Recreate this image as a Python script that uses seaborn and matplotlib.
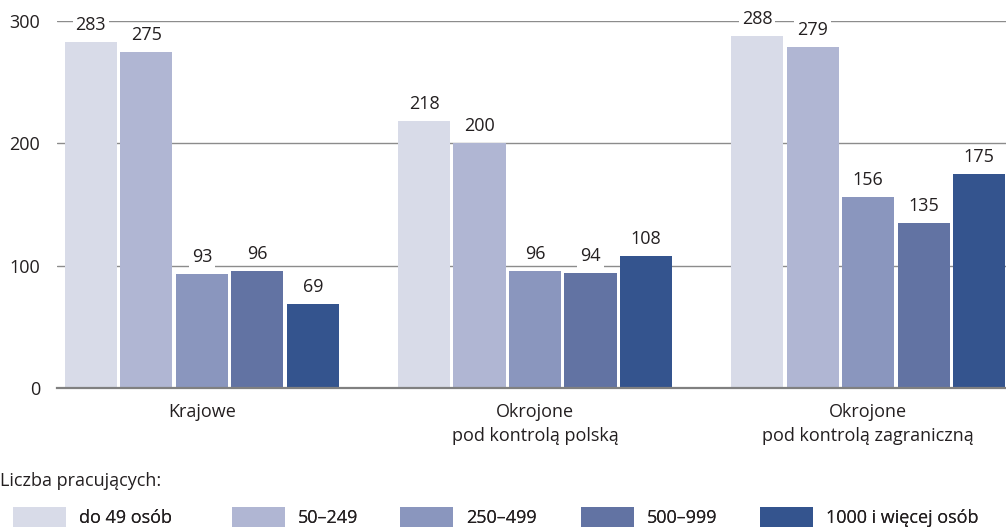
import matplotlib
matplotlib.use("Agg")
import matplotlib.pyplot as plt
import seaborn as sns
import pandas as pd
from matplotlib.patches import Patch

categories = ["Krajowe", "Okrojone\npod kontrolą polską", "Okrojone\npod kontrolą zagraniczną"]
sizes = ["do 49 osób", "50–249", "250–499", "500–999", "1000 i więcej osób"]
values = {
    "do 49 osób": [283, 218, 288],
    "50–249": [275, 200, 279],
    "250–499": [93, 96, 156],
    "500–999": [96, 94, 135],
    "1000 i więcej osób": [69, 108, 175],
}
colors = ["#d8dbe8", "#b0b6d3", "#8a96be", "#6273a3", "#34548e"]
yticks = [0, 100, 200, 300]
legend_title = "Liczba pracujących:"

rows = []
for s in sizes:
    for c, v in zip(categories, values[s]):
        rows.append({"cat": c, "size": s, "val": v})
df = pd.DataFrame(rows)

sns.set_theme(style="white")
plt.rcParams["font.family"] = ["Open Sans", "DejaVu Sans"]
plt.rcParams["text.color"] = "#231f20"
FS = 13

fig = plt.figure(figsize=(10.06, 5.29), dpi=100)
ax = fig.add_axes([57 / 1006, (529 - 388) / 529, 1 - 57 / 1006, (388 - 21) / 529])

sns.barplot(data=df, x="cat", y="val", hue="size", order=categories, hue_order=sizes,
            palette=colors, width=0.833, gap=0.06, ax=ax, saturation=1,
            linewidth=0, legend=False, zorder=3)

ax.set_ylim(0, 300)
ax.set_xlim(-0.435, 2.414)
ax.set_yticks(yticks)
ax.yaxis.grid(True, color="#8c8c8c", linewidth=1.0, zorder=0)
ax.set_axisbelow(True)
for sp in ["top", "right", "left"]:
    ax.spines[sp].set_visible(False)
ax.spines["bottom"].set_color("#808080")
ax.spines["bottom"].set_linewidth(1.6)
ax.spines["bottom"].set_zorder(4)
ax.tick_params(axis="both", length=0, labelsize=FS, colors="#231f20")
ax.tick_params(axis="y", pad=12)
ax.tick_params(axis="x", pad=11)
ax.set_xlabel("")
ax.set_ylabel("")
for lab in ax.get_xticklabels():
    lab.set_linespacing(1.4)

for cont in ax.containers:
    for bar in cont:
        h = bar.get_height()
        ax.text(bar.get_x() + bar.get_width() / 2, h + 17 * 300 / 367, f"{int(h)}",
                ha="center", va="center", fontsize=FS, zorder=5, clip_on=False,
                bbox=dict(boxstyle="square,pad=0.15", fc="white", ec="none"))

fig.text(0.0, (529 - 481) / 529, legend_title, fontsize=FS, va="center", ha="left")

leg_x = [13, 232, 400, 581, 760]
fs_px = FS * 100 / 72
for i, (c, s) in enumerate(zip(colors, sizes)):
    leg = fig.legend([Patch(facecolor=c, edgecolor="none")], [s], loc="center left",
                     bbox_to_anchor=(leg_x[i] / 1006, (529 - 517) / 529),
                     frameon=False, fontsize=FS, handlelength=53 / fs_px,
                     handleheight=23 / fs_px, handletextpad=13 / fs_px,
                     borderaxespad=0, borderpad=0)
    fig.add_artist(leg)

fig.savefig("out.png", dpi=100)
